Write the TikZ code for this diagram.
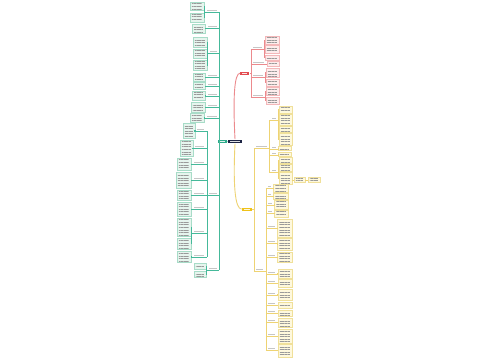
\documentclass[tikz,border=0pt]{standalone}
\usetikzlibrary{fit,calc,patterns.meta}
\definecolor{tealc}{HTML}{2DAA8A}
\definecolor{tealline}{HTML}{45B99A}
\definecolor{tealfill}{HTML}{E6F5EE}
\definecolor{tealbd}{HTML}{A8DCC8}
\definecolor{navyc}{HTML}{1D2444}
\definecolor{redc}{HTML}{E24A4F}
\definecolor{redline}{HTML}{EC8A8D}
\definecolor{redfill}{HTML}{FDECEC}
\definecolor{redbd}{HTML}{F3B8BA}
\definecolor{yelc}{HTML}{EFC21A}
\definecolor{yelline}{HTML}{EED373}
\definecolor{yelfill}{HTML}{FEF8DD}
\definecolor{yelbd}{HTML}{F0E09A}
\definecolor{txtc}{HTML}{9A9A9A}
\newcommand\myleaf[3]{\node[#1, fit={#3}] (#2) {};}
\newcommand\mylab[4]{\node[labst, fit={(#2,#4-2.2) (#3,#4)}] (#1) {};}
\newcommand\lcon[3]{\draw[#1] (#2.east) -| ($(#3.south west)+(-1,0)$) -- (#3.south west);}
\newcommand\rcon[3]{\draw[#1] (#2.south east) -- ($(#2.south east)+(1,0)$) |- (#3.west);}
\newcommand\uleft[3]{\draw[#1] (#2.south west) -- (#2.south east) -- (#2.south east -| #3);}
\newcommand\uright[3]{\draw[#1] (#3 |- #2.south) -- (#2.south east);}
\begin{document}
\begin{tikzpicture}[x=0.5pt,y=-0.5pt,
  txtfill/.style={path picture={\fill[pattern={Lines[distance=1.3pt,line width=0.45pt]},pattern color=txtc] ([xshift=1pt,yshift=-0.7pt]path picture bounding box.north west) rectangle ([xshift=-1pt,yshift=0.5pt]path picture bounding box.south east);}},
  leafT/.style={draw=tealbd, fill=tealfill, line width=0.25pt, inner sep=0pt, txtfill},
  leafR/.style={draw=redbd, fill=redfill, line width=0.25pt, inner sep=0pt, txtfill},
  leafY/.style={draw=yelbd, fill=yelfill, line width=0.25pt, inner sep=0pt, txtfill},
  labst/.style={inner sep=0pt, path picture={\fill[gray!45] ([xshift=0.3pt,yshift=-0.15pt]path picture bounding box.north west) rectangle ([xshift=-0.3pt,yshift=0.35pt]path picture bounding box.south east);}},
  mainst/.style={inner sep=0pt, path picture={\fill[white!85!#1] ([xshift=1pt,yshift=-0.6pt]path picture bounding box.north west) rectangle ([xshift=-1pt,yshift=0.6pt]path picture bounding box.south east);}},
  tl/.style={draw=tealline, line width=0.3pt},
  tt/.style={draw=tealline, line width=0.45pt},
  rl/.style={draw=redline, line width=0.3pt},
  rt/.style={draw=redline, line width=0.45pt},
  yl/.style={draw=yelline, line width=0.3pt},
  yt/.style={draw=yelline, line width=0.45pt}]
\useasboundingbox (0,0) rectangle (500,360);
\fill[white] (0,0) rectangle (500,360);

% ---------- root and main branches
\node[fill=navyc, mainst=navyc, fit={(228,139.5) (242,143.3)}] (root) {};
\node[fill=tealc, mainst=tealc, fit={(218.5,139.6) (227,142.9)}] (tn) {};
\node[fill=redc, mainst=redc, fit={(240.5,71.5) (249.5,74.8)}] (rn) {};
\node[fill=yelc, mainst=yelc, fit={(242,207.5) (252,210.8)}] (yn) {};
\draw[tt] (root.west) -- (tn.east);
\draw[rt] (root.north) .. controls (233,100) and (234,73) .. (rn.west);
\draw[yt] (root.south) .. controls (233,185) and (235,209) .. (yn.west);

% ---------- teal (left) branch
\coordinate (ttop) at (219,12);
\coordinate (tbot) at (219,270);
\draw[tt] (ttop) -- (tbot);

\mylab{T1}{206}{218}{12}
\myleaf{leafT}{T1a}{(190,2) (204,10)}
\myleaf{leafT}{T1b}{(190,13) (204,22)}
\uleft{tl}{T1}{ttop} \lcon{tl}{T1a}{T1} \lcon{tl}{T1b}{T1}

\mylab{T2}{207}{218}{28}
\myleaf{leafT}{T2a}{(192,24.5) (205,33)}
\uleft{tl}{T2}{ttop} \lcon{tl}{T2a}{T2}

\mylab{T3}{209}{218}{53}
\myleaf{leafT}{T3a}{(193,37) (207,47)}
\myleaf{leafT}{T3b}{(193,49) (207,58)}
\myleaf{leafT}{T3c}{(193,60) (207,70)}
\uleft{tl}{T3}{ttop} \lcon{tl}{T3a}{T3} \lcon{tl}{T3b}{T3} \lcon{tl}{T3c}{T3}

\mylab{T4}{207}{218}{77}
\myleaf{leafT}{T4a}{(193,73) (205,81)}
\uleft{tl}{T4}{ttop} \lcon{tl}{T4a}{T4}

\mylab{T5}{207}{218}{86}
\myleaf{leafT}{T5a}{(193,82.5) (205,89.5)}
\uleft{tl}{T5}{ttop} \lcon{tl}{T5a}{T5}

\mylab{T6}{207}{218}{96}
\myleaf{leafT}{T6a}{(192,91) (205,100.5)}
\uleft{tl}{T6}{ttop} \lcon{tl}{T6a}{T6}

\mylab{T7}{207}{218}{107}
\myleaf{leafT}{T7a}{(191,102) (205,112)}
\uleft{tl}{T7}{ttop} \lcon{tl}{T7a}{T7}

\mylab{T8}{206}{218}{118}
\myleaf{leafT}{T8a}{(190,113.5) (204,122)}
\uleft{tl}{T8}{ttop} \lcon{tl}{T8a}{T8}

\mylab{T9}{208}{218}{195}
\coordinate (st1) at (207,131);
\coordinate (st2) at (207,257);
\draw[tl] (st1) -- (st2);
\draw[tl] (st1 |- T9.south) -- (T9.south west) -- (T9.south east) -- (T9.south east -| ttop);

\mylab{S1}{196}{205}{131}
\myleaf{leafT}{S1a}{(183,123) (195,138)}
\uleft{tl}{S1}{st1} \lcon{tl}{S1a}{S1}
\mylab{S2}{194}{205}{148}
\myleaf{leafT}{S2a}{(180,140) (193,156)}
\uleft{tl}{S2}{st1} \lcon{tl}{S2a}{S2}
\mylab{S3}{193}{205}{164}
\myleaf{leafT}{S3a}{(177,158) (191,170)}
\uleft{tl}{S3}{st1} \lcon{tl}{S3a}{S3}
\mylab{S4}{193}{205}{180}
\myleaf{leafT}{S4a}{(176,172) (191,188)}
\uleft{tl}{S4}{st1} \lcon{tl}{S4a}{S4}
\mylab{S5}{193}{205}{195}
\myleaf{leafT}{S5a}{(177,190) (191,200)}
\uleft{tl}{S5}{st1} \lcon{tl}{S5a}{S5}
\mylab{S6}{193}{205}{209}
\myleaf{leafT}{S6a}{(177,202) (191,216)}
\uleft{tl}{S6}{st1} \lcon{tl}{S6a}{S6}
\mylab{S7}{193}{205}{233}
\myleaf{leafT}{S7a}{(177,218) (191,236)}
\myleaf{leafT}{S7b}{(177,238) (191,249)}
\uleft{tl}{S7}{st1} \lcon{tl}{S7a}{S7} \lcon{tl}{S7b}{S7}
\mylab{S8}{193}{205}{257}
\myleaf{leafT}{S8a}{(177,251) (191,262)}
\uleft{tl}{S8}{st1} \lcon{tl}{S8a}{S8}

\mylab{T10}{208}{218}{270}
\myleaf{leafT}{T10a}{(194,263.5) (206,269.5)}
\myleaf{leafT}{T10b}{(194,271) (206,277.5)}
\uleft{tl}{T10}{ttop} \lcon{tl}{T10a}{T10} \lcon{tl}{T10b}{T10}

% ---------- red branch
\coordinate (rtop) at (251,49);
\coordinate (rbot) at (251,97);
\draw[rt] (rtop) -- (rbot);
\draw[rt] (rn.east) -- (rn.east -| rtop);

\mylab{R1}{252}{263}{49}
\myleaf{leafR}{R1a}{(265,36) (279,44)}
\myleaf{leafR}{R1b}{(265,45.5) (279,53.5)}
\myleaf{leafR}{R1c}{(265,55) (279,60.5)}
\uright{rl}{R1}{rtop} \rcon{rl}{R1}{R1a} \rcon{rl}{R1}{R1b} \rcon{rl}{R1}{R1c}

\mylab{R2}{252}{265}{64}
\myleaf{leafR}{R2a}{(267,61.5) (279,66.5)}
\uright{rl}{R2}{rtop} \rcon{rl}{R2}{R2a}

\mylab{R3}{252}{264}{77}
\myleaf{leafR}{R3a}{(266,68) (279,77.5)}
\myleaf{leafR}{R3b}{(266,79) (279,86)}
\uright{rl}{R3}{rtop} \rcon{rl}{R3}{R3a} \rcon{rl}{R3}{R3b}

\mylab{R4}{252}{264}{97}
\myleaf{leafR}{R4a}{(266,87.5) (279,95.5)}
\myleaf{leafR}{R4b}{(266,97) (279,104.5)}
\uright{rl}{R4}{rtop} \rcon{rl}{R4}{R4a} \rcon{rl}{R4}{R4b}

% ---------- yellow branch
\coordinate (ytop) at (254,148);
\coordinate (ybot) at (254,271);
\draw[yt] (ytop) -- (ybot);
\draw[yt] (yn.east) -- (yn.east -| ytop);

\mylab{A}{255}{268}{148}
\uright{yl}{A}{ytop}
\coordinate (at1) at (269.5,120);
\coordinate (at2) at (269.5,172);
\draw[yl] (at1) -- (at2);
\draw[yl] (A.south east) -- (A.south east -| at1);

\mylab{A1}{271}{277}{120}
\myleaf{leafY}{A1a}{(279,106) (292,113)}
\myleaf{leafY}{A1b}{(279,114.5) (292,125)}
\myleaf{leafY}{A1c}{(279,126.5) (292,132)}
\myleaf{leafY}{A1d}{(279,133.5) (292,145)}
\uright{yl}{A1}{at1} \rcon{yl}{A1}{A1a} \rcon{yl}{A1}{A1b} \rcon{yl}{A1}{A1c} \rcon{yl}{A1}{A1d}

\mylab{A2}{271}{276.5}{149}
\myleaf{leafY}{A2a}{(278,146.5) (291,150.5)}
\uright{yl}{A2}{at1} \rcon{yl}{A2}{A2a}

\mylab{A3}{271}{276.5}{154.5}
\myleaf{leafY}{A3a}{(278,152) (291,156)}
\uright{yl}{A3}{at1} \rcon{yl}{A3}{A3a}

\mylab{A4}{271}{277}{172}
\myleaf{leafY}{A4a}{(279,157.5) (292,163)}
\myleaf{leafY}{A4b}{(279,164.5) (292,171)}
\myleaf{leafY}{A4c}{(279,172.5) (292,184)}
\myleaf{leafY}{A4d}{(294,177.5) (305,182.5)}
\myleaf{leafY}{A4e}{(308,177.5) (320,182.5)}
\uright{yl}{A4}{at1} \rcon{yl}{A4}{A4a} \rcon{yl}{A4}{A4b} \rcon{yl}{A4}{A4c}
\draw[yl] (A4c.east |- A4d.west) -- (A4d.west);
\draw[yl] (A4d.east) -- (A4e.west);

\mylab{B}{255}{264}{271}
\uright{yl}{B}{ytop}
\coordinate (bt1) at (266,188);
\coordinate (bt2) at (266,350);
\draw[yl] (bt1) -- (bt2);
\draw[yl] (B.south east) -- (B.south east -| bt1);

\mylab{B1}{267}{272}{188}
\myleaf{leafY}{B1a}{(273.5,184.5) (288,192)}
\uright{yl}{B1}{bt1} \rcon{yl}{B1}{B1a}
\mylab{B2}{267}{272}{196}
\myleaf{leafY}{B2a}{(273.5,193) (288,199.5)}
\uright{yl}{B2}{bt1} \rcon{yl}{B2}{B2a}
\mylab{B3}{267}{273}{205}
\myleaf{leafY}{B3a}{(274.5,200.5) (288,209)}
\uright{yl}{B3}{bt1} \rcon{yl}{B3}{B3a}
\mylab{B4}{267}{273}{213}
\myleaf{leafY}{B4a}{(274.5,210) (288,217.5)}
\uright{yl}{B4}{bt1} \rcon{yl}{B4}{B4a}
\mylab{B5}{267}{276}{228}
\myleaf{leafY}{B5a}{(277.5,219) (292,237)}
\uright{yl}{B5}{bt1} \rcon{yl}{B5}{B5a}
\mylab{B6}{267}{276}{243}
\myleaf{leafY}{B6a}{(277.5,238.5) (292,250.5)}
\uright{yl}{B6}{bt1} \rcon{yl}{B6}{B6a}
\mylab{B7}{267}{276}{257}
\myleaf{leafY}{B7a}{(277.5,252) (292,262)}
\uright{yl}{B7}{bt1} \rcon{yl}{B7}{B7a}
\mylab{B8}{267}{276}{274}
\myleaf{leafY}{B8a}{(278,269.5) (292,278)}
\uright{yl}{B8}{bt1} \rcon{yl}{B8}{B8a}
\mylab{B9}{267}{276}{283}
\myleaf{leafY}{B9a}{(278,279.5) (292,287.5)}
\uright{yl}{B9}{bt1} \rcon{yl}{B9}{B9a}
\mylab{B10}{267}{276}{295}
\myleaf{leafY}{B10a}{(278,289) (292,300.5)}
\uright{yl}{B10}{bt1} \rcon{yl}{B10}{B10a}
\mylab{B11}{267}{276}{305}
\myleaf{leafY}{B11a}{(278,302) (292,308.5)}
\uright{yl}{B11}{bt1} \rcon{yl}{B11}{B11a}
\mylab{B12}{267}{276}{313}
\myleaf{leafY}{B12a}{(278,310) (292,316.5)}
\uright{yl}{B12}{bt1} \rcon{yl}{B12}{B12a}
\mylab{B13}{267}{276}{322}
\myleaf{leafY}{B13a}{(278,318) (292,327.5)}
\uright{yl}{B13}{bt1} \rcon{yl}{B13}{B13a}
\mylab{B14}{267}{276}{336}
\myleaf{leafY}{B14a}{(278,329) (292,343)}
\uright{yl}{B14}{bt1} \rcon{yl}{B14}{B14a}
\mylab{B15}{267}{276}{350}
\myleaf{leafY}{B15a}{(278,344.5) (292,357)}
\uright{yl}{B15}{bt1} \rcon{yl}{B15}{B15a}
\end{tikzpicture}
\end{document}
